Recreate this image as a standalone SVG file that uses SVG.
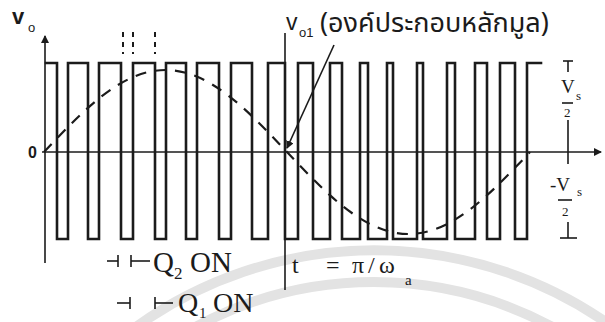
<svg xmlns="http://www.w3.org/2000/svg" width="605" height="322" viewBox="0 0 605 322">
<style>
.ln{fill:none;stroke:#1b1b1b;stroke-width:2.6;stroke-linecap:square}
.th{fill:none;stroke:#1b1b1b;stroke-width:1.6}
.wm{fill:none;stroke:#e3e3e3;stroke-width:10}
.sn{fill:none;stroke:#1b1b1b;stroke-width:2.2;stroke-dasharray:11 9}
.dm{fill:none;stroke:#1b1b1b;stroke-width:2;stroke-dasharray:5 5}
.sf{font-family:"Liberation Serif","Times New Roman",serif;fill:#1b1b1b}
.ss{font-family:"Liberation Sans",Arial,sans-serif;fill:#1b1b1b}
</style>
<defs>
<marker id="ah" markerWidth="8" markerHeight="8" refX="7" refY="4" orient="auto" markerUnits="userSpaceOnUse">
<path d="M0,0 L8,4 L0,8 Z" fill="#1b1b1b"/>
</marker>
</defs>
<rect width="605" height="322" fill="#ffffff"/>
<g id="watermark">
<path class="wm" d="M131.8 330 A408.7 408.7 0 0 1 616.8 330"/>
<path class="wm" d="M190 330 A377 377 0 0 1 558 330"/>
</g>
<g id="axes">
<line class="th" x1="45" y1="263" x2="45" y2="36" marker-end="url(#ah)"/>
<line class="th" x1="42" y1="152" x2="601" y2="152" marker-end="url(#ah)"/>
<line class="th" x1="285" y1="33" x2="285" y2="290"/>
<text class="ss" x="28" y="158" font-size="16" font-weight="bold">0</text>
<text class="ss" x="12" y="24" font-size="22" font-weight="bold">v</text>
<text class="ss" x="28" y="32" font-size="13">o</text>
</g>
<g id="waveform">
<path class="ln" d="M46,63 H57 V239 H68 V63 H88 V239 H99 V63 H121 V239 H133 V63 H155 V239 H166 V63 H186 V239 H197 V63 H219 V239 H231 V63 H252 V239 H268 V63 H285 V239 H298 V63 H313 V239 H330 V63 H342 V239 H360 V63 H368 V239 H387 V63 H393 V239 H417 V63 H423 V239 H447 V63 H455 V239 H475 V63 H487 V239 H500 V63 H515 V239 H527 V63 H541"/>
</g>
<g id="fundamental">
<path class="sn" d="M44,152 C83.6,110 121.5,70 165.5,70 C209.5,70 247.4,110 287,152 C326.6,194 364.5,234 408.5,234 C452.5,234 490.4,194 530,152"/>
</g>
<g id="markers">
<line class="dm" x1="123" y1="32" x2="123" y2="54"/>
<line class="dm" x1="133" y1="32" x2="133" y2="54"/>
<line class="dm" x1="155" y1="32" x2="155" y2="54"/>
</g>
<g id="label-vo1">
<text class="ss" x="286" y="30" font-size="23">v</text>
<text class="ss" x="299" y="37" font-size="13">o1</text>
<text x="320" y="32" font-size="27" font-family="'Noto Sans Thai','Noto Sans','DejaVu Sans',sans-serif" fill="#1b1b1b">(องค์ประกอบหลักมูล)</text>
</g>
<g id="connectors">
<line class="th" x1="334" y1="45" x2="287" y2="148" marker-end="url(#ah)"/>
</g>
<g id="vs-scale">
<line class="th" x1="563" y1="61" x2="573" y2="61"/>
<line class="th" x1="568" y1="61" x2="568" y2="72"/>
<text class="sf" x="561" y="93" font-size="19">V</text>
<text class="sf" x="576" y="100" font-size="13">s</text>
<line class="th" x1="562" y1="103" x2="573" y2="103"/>
<text class="sf" x="564" y="117" font-size="13">2</text>
<line class="th" x1="568" y1="120" x2="568" y2="164"/>
<text class="sf" x="550" y="191" font-size="19">-V</text>
<text class="sf" x="577" y="196" font-size="13">s</text>
<line class="th" x1="558" y1="200" x2="572" y2="200"/>
<text class="sf" x="562" y="216" font-size="13">2</text>
<line class="th" x1="568" y1="222" x2="568" y2="238"/>
<line class="th" x1="560" y1="238" x2="577" y2="238"/>
</g>
<g id="q2-on">
<line class="th" x1="107" y1="261" x2="118" y2="261"/>
<line class="th" x1="118" y1="255" x2="118" y2="267"/>
<line class="th" x1="131" y1="255" x2="131" y2="267"/>
<line class="th" x1="131" y1="261" x2="150" y2="261"/>
<text class="sf" x="153" y="272" font-size="29">Q</text>
<text class="sf" x="174" y="279" font-size="17">2</text>
<text class="sf" x="190" y="272" font-size="29">ON</text>
</g>
<g id="q1-on">
<line class="th" x1="117" y1="303" x2="130" y2="303"/>
<line class="th" x1="130" y1="297" x2="130" y2="309"/>
<line class="th" x1="155" y1="297" x2="155" y2="309"/>
<line class="th" x1="155" y1="303" x2="173" y2="303"/>
<text class="sf" x="178" y="312" font-size="28">Q</text>
<text class="sf" x="199" y="318" font-size="15">1</text>
<text class="sf" x="213" y="312" font-size="28">ON</text>
</g>
<g id="t-label">
<text class="sf" x="292" y="273" font-size="24">t</text>
<text class="sf" x="326" y="273" font-size="24">=</text>
<text class="sf" x="352" y="273" font-size="24">π</text>
<text class="sf" x="368" y="273" font-size="24">/</text>
<text class="sf" x="379" y="273" font-size="24">ω</text>
<text class="sf" x="405" y="285" font-size="15">a</text>
</g>
</svg>
